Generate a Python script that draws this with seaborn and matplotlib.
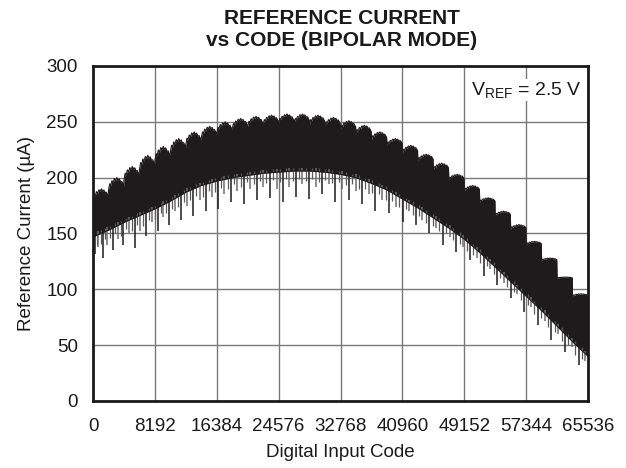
import numpy as np
import pandas as pd
import matplotlib
matplotlib.use("Agg")
import matplotlib.pyplot as plt
import seaborn as sns

# ---------------- data ----------------
# upper envelope: one "hump" every 2048 codes
hump_start = list(range(0, 65536, 2048))
hump_valley = [180, 189, 198, 207, 215, 223, 230, 236, 240, 244, 246, 248, 249, 249, 248, 246,
               243, 239, 234, 229, 222, 215, 207, 198, 188, 178, 166, 154, 140, 126, 110, 94]
hump_peak = [190, 200, 210, 220, 228, 235, 241, 246, 250, 253, 255, 256, 257, 257, 256, 254,
             251, 247, 241, 235, 229, 221, 213, 203, 193, 182, 170, 158, 143, 128, 111, 96]
end_code = 65536
end_value = 84

# lower edge of the dense band (at hump boundaries)
lower_code = list(range(0, 65537, 2048))
lower_value = [147, 153, 160, 166, 172, 179, 187, 193, 197, 200, 202, 204, 205, 206, 206, 205,
               203, 200, 195, 189, 181, 173, 164, 155, 145, 133, 120, 107, 94, 81, 67, 53, 40]

# long downward spikes below the dense band
spike_code = [300, 700, 1300, 1900, 2600, 3300, 4000, 4700, 5500, 6200, 7000, 7800, 8600, 9300,
              10100, 10900, 11700, 12500, 13300, 14100, 14900, 15800, 16600, 17400, 18300, 19100,
              20000, 20800, 21700, 22500, 23400, 24300, 25100, 26000, 26900, 27700, 28600, 29500,
              30300, 31200, 32100, 33000, 33900, 34800, 35600, 36500, 37400, 38300, 39200, 40100,
              41000, 41900, 42700, 43600, 44500, 45400, 46300, 47200, 48100, 49000, 49900, 50800,
              51700, 52600, 53500, 54400, 55300, 56200, 57100, 58000, 58900, 59800, 60700, 61600,
              62500, 63400, 64300, 65200]
spike_bottom = [132, 138, 128, 140, 135, 145, 140, 150, 137, 152, 148, 160, 152, 165,
                158, 170, 162, 175, 166, 180, 170, 183, 172, 185, 178, 188,
                176, 190, 180, 192, 182, 190, 178, 192, 183, 194, 181, 192,
                185, 194, 178, 190, 180, 188, 176, 185, 170, 180, 168, 174,
                160, 170, 158, 162, 150, 155, 140, 147, 133, 138, 126, 128,
                112, 118, 104, 106, 92, 96, 80, 84, 68, 72, 55, 60,
                44, 48, 32, 36]

# short grey spikes along the lower edge
spike2_code = [500, 1000, 1600, 2250, 2950, 3650, 4350, 5100, 5850, 6600, 7400, 8200, 8950, 9700,
               10500, 11300, 12100, 12900, 13700, 14500, 15350, 16200, 17000, 17850, 18700, 19550,
               20400, 21250, 22100, 22950, 23850, 24700, 25550, 26450, 27300, 28150, 29050, 29900,
               30750, 31650, 32550, 33450, 34350, 35200, 36050, 36950, 37850, 38750, 39650, 40550,
               41450, 42300, 43150, 44050, 44950, 45850, 46750, 47650, 48550, 49450, 50350, 51250,
               52150, 53050, 53950, 54850, 55750, 56650, 57550, 58450, 59350, 60250, 61150, 62050,
               62950, 63850, 64750]
spike2_bottom = [140, 141, 145, 146, 150, 148, 154, 152, 158, 157, 162, 163, 168, 168,
                 172, 174, 178, 180, 184, 183, 188, 187, 191, 190, 194, 192,
                 196, 194, 197, 195, 198, 196, 199, 197, 199, 197, 199, 196,
                 198, 195, 196, 193, 194, 190, 190, 186, 185, 180, 179, 174,
                 172, 167, 166, 159, 157, 152, 150, 144, 141, 134, 131, 124,
                 121, 114, 110, 102, 98, 90, 86, 78, 74, 66, 62, 54,
                 50, 41, 38]

x_ticks = [0, 8192, 16384, 24576, 32768, 40960, 49152, 57344, 65536]
y_ticks = [0, 50, 100, 150, 200, 250, 300]

# ---------------- build outline (hump profile with small teeth) ----------------
shape_pos = [0.0, 0.08, 0.14, 0.22, 0.3, 0.38, 0.46, 0.54, 0.62, 0.7, 0.78, 0.86, 0.93, 0.98]
shape_frac = [0.0, 0.5, 0.35, 0.75, 0.6, 0.92, 0.78, 1.0, 0.8, 0.9, 0.65, 0.7, 0.45, 0.3]
ux, uy = [], []
for s, v, p in zip(hump_start, hump_valley, hump_peak):
    for sp, sf in zip(shape_pos, shape_frac):
        ux.append(s + sp * 2048)
        uy.append(v + sf * (p - v))
ux.append(end_code)
uy.append(end_value)
ux = np.array(ux)
uy = np.array(uy)
ly = np.interp(ux, lower_code, lower_value)
band = pd.DataFrame({"code": ux, "upper": uy, "lower": ly})

# ---------------- plot ----------------
sns.set_theme(style="white")
plt.rcParams["font.family"] = ["Liberation Sans", "DejaVu Sans"]
plt.rcParams["mathtext.fontset"] = "custom"
plt.rcParams["mathtext.rm"] = "Liberation Sans"

fig = plt.figure(figsize=(6.26, 4.68), dpi=100)
ax = fig.add_axes([0.1486, 0.1432, 0.7907, 0.7158])

ink = "#1e1b1c"
ax.fill_between(band["code"], band["lower"], band["upper"], color=ink, lw=0, zorder=3)
sns.lineplot(data=band, x="code", y="upper", ax=ax, color=ink, lw=0.8, zorder=4)
sns.lineplot(data=band, x="code", y="lower", ax=ax, color=ink, lw=0.8, zorder=4)

sp2_top = np.interp(spike2_code, lower_code, lower_value) + 3
ax.vlines(spike2_code, spike2_bottom, sp2_top, colors="#5a5a5a", lw=0.9, zorder=3)
sp_top = np.interp(spike_code, lower_code, lower_value) + 3
cols = [ink if i % 2 == 0 else "#6e6e6e" for i in range(len(spike_code))]
ax.vlines(spike_code, spike_bottom, sp_top, colors=cols, lw=1.1, zorder=3)

ax.set_xlim(0, 65536)
ax.set_ylim(0, 300)
ax.set_xticks(x_ticks)
ax.set_xticklabels([str(t) for t in x_ticks])
ax.set_yticks(y_ticks)
ax.grid(True, color="#7a7a7a", lw=1.0, zorder=0)
ax.set_axisbelow(True)
ax.tick_params(axis="both", length=0, labelsize=13.5, colors="#1a1a1a")
ax.tick_params(axis="y", pad=11)
ax.tick_params(axis="x", pad=12)
for s in ax.spines.values():
    s.set_color("#1a1a1a")
    s.set_linewidth(2)
    s.set_zorder(5)

ax.set_xlabel("Digital Input Code", fontsize=13.5, color="#1a1a1a", labelpad=7)
ax.set_ylabel("Reference Current (\u00b5A)", fontsize=13.5, color="#1a1a1a", labelpad=8)

fig.text(0.546, 1 - 19 / 468, "REFERENCE CURRENT", ha="center", va="center",
         fontsize=15, fontweight="bold", color="#1a1a1a")
fig.text(0.546, 1 - 40 / 468, "vs CODE (BIPOLAR MODE)", ha="center", va="center",
         fontsize=15, fontweight="bold", color="#1a1a1a")
ax.text(0.988, 0.928, r"$\mathregular{V_{REF}}$ = 2.5 V", transform=ax.transAxes,
        ha="right", va="center", fontsize=14, color="#1a1a1a",
        bbox=dict(facecolor="white", edgecolor="none", pad=1), zorder=6)

fig.savefig("out.png", dpi=100)
